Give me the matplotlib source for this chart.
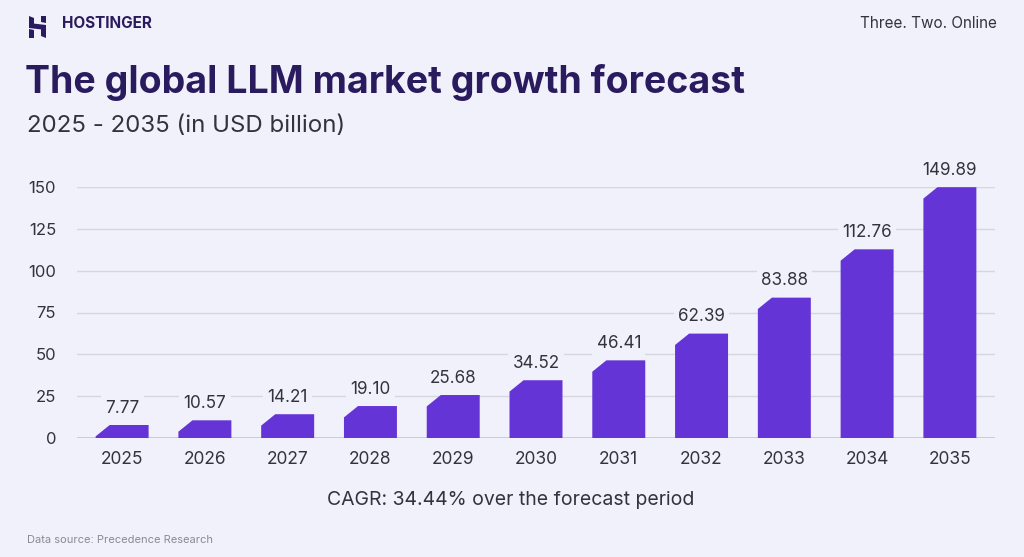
import matplotlib
matplotlib.use("Agg")
import matplotlib.pyplot as plt
from matplotlib.patches import Polygon
import numpy as np

years = ["2025", "2026", "2027", "2028", "2029", "2030", "2031", "2032", "2033", "2034", "2035"]
values = [7.77, 10.57, 14.21, 19.10, 25.68, 34.52, 46.41, 62.39, 83.88, 112.76, 149.89]
labels = ["7.77", "10.57", "14.21", "19.10", "25.68", "34.52", "46.41", "62.39", "83.88", "112.76", "149.89"]
yticks = [0, 25, 50, 75, 100, 125, 150]

BG = "#f1f1fb"
BAR = "#6434d6"
NAVY = "#2a1a5e"
TXT = "#333340"

plt.rcParams['font.family'] = ['Inter', 'DejaVu Sans']

W, H = 1024, 557
fig = plt.figure(figsize=(W / 100, H / 100), dpi=100, facecolor=BG)

def fx(px):
    return px / W

def fy(py):
    return 1 - py / H

ax = fig.add_axes([fx(77), fy(438), fx(995) - fx(77), fy(187) - fy(438)])
ax.set_facecolor(BG)
ax.set_xlim(-0.545, 10.545)
ax.set_ylim(0, 150)

x = np.arange(len(years))
bw = 0.64
bars = ax.bar(x, values, width=bw, color=BAR, zorder=3)
# chamfered top-left corner
dx = 0.17
dy_full = 6.8
for b, v, lab in zip(bars, values, labels):
    b.set_visible(False)
    x0 = b.get_x()
    x1 = x0 + b.get_width()
    dy = min(dy_full, v)
    ddx = dx * dy / dy_full
    poly = Polygon([(x0, 0), (x0, v - dy), (x0 + ddx, v), (x1, v), (x1, 0)],
                   closed=True, facecolor=BAR, edgecolor="none", zorder=3)
    ax.add_patch(poly)
    ax.annotate(lab, (x0 + b.get_width() / 2, v),
                xytext=(0, 6), textcoords="offset points", ha="center", va="bottom",
                fontsize=12.3, color=TXT, zorder=5,
                bbox=dict(boxstyle="square,pad=0.25", facecolor=BG, edgecolor="none"))

ax.set_yticks(yticks)
ax.set_yticklabels([str(t) for t in yticks], fontsize=12, color=TXT)
ax.set_xticks(x)
ax.set_xticklabels(years, fontsize=12.5, color=TXT)
ax.tick_params(axis="y", length=0, pad=15)
ax.tick_params(axis="x", length=0, pad=9)
for s in ax.spines.values():
    s.set_visible(False)
ax.grid(axis="y", color="#d6d6de", linewidth=1, zorder=1)
ax.axhline(0, color="#c8c2ea", linewidth=1.2, zorder=2)

# header
fig.text(fx(62), fy(23), "HOSTINGER", fontsize=11, fontweight="bold", color=NAVY,
         ha="left", va="center")
# simple logo
logo = [
    [(29, 16), (34, 18), (34, 27), (29, 25)],
    [(29, 23), (46, 25), (46, 30), (29, 28)],
    [(41, 16), (46, 16), (46, 23), (41, 22)],
    [(29, 29), (34, 30), (34, 38), (29, 38)],
    [(41, 27), (46, 27), (46, 38), (41, 36)],
]
for pts in logo:
    fig.patches.append(Polygon([(fx(a), fy(b)) for a, b in pts], closed=True,
                               transform=fig.transFigure, facecolor=NAVY, edgecolor="none"))

fig.text(fx(997), fy(24), "Three. Two. Online", fontsize=11, color=TXT, ha="right", va="center")
fig.text(fx(25), fy(82), "The global LLM market growth forecast", fontsize=27, fontweight="bold",
         color=NAVY, ha="left", va="center")
fig.text(fx(27), fy(126), "2025 - 2035 (in USD billion)", fontsize=17.3, color=TXT,
         ha="left", va="center")
fig.text(fx(511), fy(500), "CAGR: 34.44% over the forecast period", fontsize=14, color=TXT,
         ha="center", va="center")
fig.text(fx(27), fy(540), "Data source: Precedence Research", fontsize=8, color="#8a8a96",
         ha="left", va="center")

fig.savefig("out.png", dpi=100, facecolor=BG)
